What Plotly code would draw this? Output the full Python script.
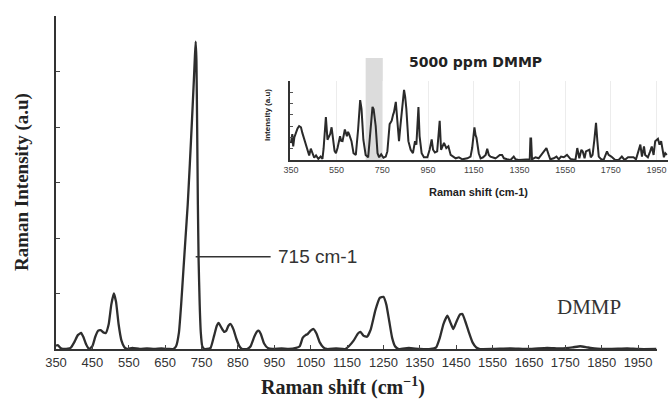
import plotly.graph_objects as go

W, H = 668, 399

# ---- main spectrum (DMMP) ----
main_x = [350, 355, 362, 375, 390, 400, 410, 419, 425, 433, 441, 450, 458, 466, 473, 480, 487,
          495, 502, 509, 515, 522, 530, 538, 545, 560, 580, 600, 620, 640, 660, 672, 680, 688,
          694, 700, 706, 712, 718, 724, 729, 732, 734, 736, 738, 740, 742, 745, 748, 752, 758,
          765, 775, 785, 792, 797, 805,
          812, 818, 824, 830, 838, 846, 855, 862, 875, 885, 895, 902, 907, 913, 922, 932, 945,
          970, 990, 1010, 1020, 1028, 1036, 1042, 1050, 1058, 1066, 1075, 1085, 1095, 1120,
          1145, 1155, 1168, 1180, 1187, 1195, 1205, 1215, 1228, 1240, 1250, 1258, 1266, 1274,
          1282, 1292, 1320, 1350, 1380, 1395, 1405, 1415, 1426, 1434, 1442, 1450, 1460, 1467,
          1475, 1485, 1495, 1505, 1515, 1550, 1600, 1650, 1700, 1740, 1770, 1791, 1810, 1830,
          1870, 1920, 1950, 2000]
main_y = [0.06, 0.07, 0.02, 0.0, 0.02, 0.12, 0.25, 0.29, 0.22, 0.08, 0.0, 0.05, 0.22, 0.33, 0.34,
          0.30, 0.29, 0.45, 0.80, 1.0, 0.85, 0.45, 0.15, 0.03, 0.0, 0.02, 0.0, 0.01, 0.0, 0.01,
          0.0, 0.0, 0.05, 0.3, 0.8, 1.4, 2.0, 2.6, 3.35, 4.15, 4.85, 5.3, 5.54, 5.2, 4.0, 2.6,
          1.6, 0.8, 0.3, 0.05, 0.0, 0.0, 0.02,
          0.25, 0.42, 0.47, 0.38, 0.31, 0.33, 0.42, 0.45, 0.35, 0.18, 0.04, 0.0, 0.0, 0.05, 0.22,
          0.31, 0.33, 0.27, 0.1, 0.02, 0.0, 0.01, 0.0, 0.02, 0.05, 0.2, 0.25, 0.27, 0.33, 0.36,
          0.28, 0.12, 0.03, 0.0, 0.01, 0.0, 0.05, 0.15, 0.28, 0.31, 0.24, 0.22, 0.35, 0.7, 0.92,
          0.94, 0.8, 0.5, 0.2, 0.05, 0.0, 0.02, 0.0, 0.0, 0.03, 0.2, 0.45, 0.6, 0.48, 0.36, 0.48,
          0.62, 0.63, 0.5, 0.3, 0.12, 0.03, 0.0, 0.0, 0.01, 0.0, 0.02, 0.01, 0.03, 0.05, 0.03,
          0.01, 0.0, 0.01, 0.0, 0.0]
main_ticks = list(range(350, 2000, 100))

# ---- inset spectrum (5000 ppm DMMP) ----
ins_x = [350, 356, 360, 365, 372, 379, 386, 394, 400, 408, 415, 423, 430, 437, 444, 452, 460, 470,
         480, 488, 493, 503, 510, 516, 522, 528, 536, 541, 547, 554, 565, 570, 576, 582, 586, 595,
         600, 605, 610, 615, 624, 634, 644, 650, 653, 657, 659, 667, 677, 688, 696, 702, 707, 712,
         717, 721, 729, 736, 745, 755, 765, 772, 782, 791, 797, 801, 809, 816, 823, 829, 835, 840,
         845, 850, 855, 864, 874, 884, 893, 899, 903, 908, 913, 922, 932, 947, 957, 966, 972, 980,
         990, 996, 1001, 1007, 1014, 1020, 1030, 1039, 1049, 1059, 1071, 1085, 1100, 1122, 1136,
         1143, 1148, 1153, 1158, 1162, 1172, 1180, 1191, 1202, 1209, 1216, 1223, 1238, 1245, 1252,
         1264, 1274, 1282, 1296, 1311, 1325, 1333, 1347, 1369, 1383, 1395, 1398, 1401, 1405, 1420,
         1434, 1445, 1456, 1468, 1478, 1485, 1500, 1512, 1522, 1532, 1544, 1558, 1573, 1583, 1595,
         1603, 1612, 1621, 1627, 1635, 1641, 1650, 1656, 1662, 1670, 1678, 1685, 1691, 1697, 1708,
         1718, 1733, 1740, 1752, 1762, 1769, 1784, 1798, 1810, 1825, 1835, 1849, 1860, 1868, 1879,
         1886, 1895, 1900, 1912, 1922, 1929, 1937, 1944, 1956, 1963, 1970, 1976, 1982, 1988, 1995]
ins_y = [1.5, 2.3, 1.2, 2.0, 2.4, 2.8, 3.0, 2.9, 2.4, 1.8, 1.3, 0.9, 0.4, 1.0, 0.6, 0.2, 0.4, 0.1,
         0.3, 0.1, 1.0, 3.8, 1.8, 2.1, 2.3, 2.9, 1.4, 0.8, 0.6, 1.06, 2.1, 1.7, 1.67, 2.4, 2.7, 2.1,
         2.5, 2.27, 2.0, 1.67, 0.6, 0.45, 2.7, 4.5, 5.3, 4.8, 4.5, 1.8, 0.45, 0.24, 2.1, 3.6, 4.7,
         4.5, 3.6, 3.0, 0.6, 0.24, 0.5, 0.2, 0.3, 0.76, 3.18, 3.48, 4.0, 4.24, 5.15, 3.64, 1.67,
         3.0, 4.24, 5.2, 6.21, 5.6, 4.55, 1.67, 0.91, 0.61, 1.67, 1.36, 3.0, 4.7, 2.12, 0.61, 0.24,
         0.24, 0.91, 1.82, 0.91, 0.67, 0.76, 2.0, 3.48, 0.91, 1.2, 1.52, 1.06, 1.21, 0.45, 0.3,
         0.15, 0.24, 0.06, 0.15, 0.3, 1.06, 1.82, 2.9, 2.2, 1.97, 0.6, 0.15, 0.24, 0.45, 1.0, 0.45,
         0.3, 0.24, 0.15, 0.24, 0.45, 0.45, 0.15, 0.06, 0.0, 0.3, 0.06, 0.0, 0.0, 0.0, 0.06, 1.9,
         1.9, 0.06, 0.24, 0.15, 0.45, 0.76, 1.06, 0.45, 0.06, 0.15, 0.3, 0.06, 0.3, 0.24, 0.45, 0.1,
         0.06, 0.0, 1.06, 0.15, 0.9, 0.76, 0.15, 0.76, 0.85, 0.91, 0.24, 0.45, 1.82, 3.3, 1.67, 0.3,
         0.06, 0.0, 0.76, 0.45, 0.3, 0.15, 0.0, 0.0, 0.3, 0.0, 0.24, 0.24, 0.24, 0.06, 0.6, 1.36,
         0.3, 1.2, 0.45, 0.24, 0.76, 1.2, 0.45, 1.67, 1.88, 1.36, 1.67, 0.91, 0.24, 0.6, 0.45]
ins_ticks = list(range(350, 2000, 200))
band = [677, 752]


def px(x):
    return x / W


def py(y):
    return 1 - y / H


fig = go.Figure()
fig.add_trace(go.Scatter(x=main_x, y=main_y, mode="lines",
                         line=dict(color="#2e2e2e", width=2.3, shape="spline", smoothing=0.4),
                         xaxis="x", yaxis="y", hoverinfo="skip"))
fig.add_trace(go.Scatter(x=ins_x, y=ins_y, mode="lines",
                         line=dict(color="#2a2a2a", width=2),
                         xaxis="x2", yaxis="y2", hoverinfo="skip"))

serif = "Liberation Serif"
sans = "Liberation Sans"

fig.update_layout(
    template="none",
    width=W, height=H, margin=dict(l=0, r=0, t=0, b=0, autoexpand=False),
    paper_bgcolor="white", plot_bgcolor="rgba(0,0,0,0)", showlegend=False,
    xaxis=dict(domain=[px(56), px(657)], range=[350, 2002], tickvals=main_ticks,
               ticks="inside", ticklen=4, tickcolor="#444", showline=True, linecolor="#333",
               linewidth=2, showgrid=False, zeroline=False, automargin=False,
               tickfont=dict(family=sans, size=13, color="#333"), anchor="y"),
    yaxis=dict(domain=[py(349), py(16)], range=[0, 6], dtick=1, ticks="inside", ticklen=4,
               tickcolor="#444", showticklabels=False, showline=True, linecolor="#333",
               linewidth=2, showgrid=False, zeroline=False, anchor="x", automargin=False),
    xaxis2=dict(domain=[px(290), 1.0], range=[346, 2000], tickvals=ins_ticks,
                ticks="", showline=True, linecolor="#333", linewidth=1.5,
                showgrid=True, gridcolor="#ececec", gridwidth=1, zeroline=False,
                automargin=False,
                tickfont=dict(family=sans, size=9, color="#444"), anchor="y2"),
    yaxis2=dict(domain=[py(160), py(81)], range=[0, 7], dtick=1, ticks="inside", ticklen=3,
                tickcolor="#555", showticklabels=False, showline=True, linecolor="#333",
                linewidth=1.5, showgrid=False, zeroline=False, anchor="x2", automargin=False),
)

# shaded band in the inset
fig.add_shape(type="rect", xref="x2", yref="paper", x0=band[0], x1=band[1],
              y0=py(160), y1=py(58), fillcolor="#dcdcdc", line=dict(width=0), layer="below")

# 715 cm-1 marker line and label
fig.add_shape(type="line", xref="x", yref="y", x0=734, x1=940, y0=1.66, y1=1.66,
              line=dict(color="#333", width=1.5))
fig.add_annotation(x=956, y=1.66, xref="x", yref="y", text="715 cm-1", showarrow=False,
                   xanchor="left", yanchor="middle",
                   font=dict(family=sans, size=19, color="#333"))
fig.add_annotation(x=1722, y=0.76, xref="x", yref="y", text="DMMP", showarrow=False,
                   xanchor="left", yanchor="middle",
                   font=dict(family=serif, size=21, color="#333"))

# main axis titles
fig.add_annotation(x=px(343), y=py(386), xref="paper", yref="paper",
                   text="<b>Raman shift (cm<sup>−1</sup>)</b>", showarrow=False,
                   xanchor="center", yanchor="middle",
                   font=dict(family=serif, size=20, color="#222"))
fig.add_annotation(x=px(22), y=py(182), xref="paper", yref="paper",
                   text="<b>Raman Intensity (a.u)</b>", showarrow=False, textangle=-90,
                   xanchor="center", yanchor="middle",
                   font=dict(family=serif, size=19, color="#222"))

# inset texts
fig.add_annotation(x=px(475), y=py(62), xref="paper", yref="paper",
                   text="<b>5000 ppm DMMP</b>", showarrow=False,
                   xanchor="center", yanchor="middle",
                   font=dict(family="DejaVu Sans", size=14, color="#222"))
fig.add_annotation(x=px(478), y=py(192), xref="paper", yref="paper",
                   text="<b>Raman shift (cm-1)</b>", showarrow=False,
                   xanchor="center", yanchor="middle",
                   font=dict(family=sans, size=11, color="#222"))
fig.add_annotation(x=px(267), y=py(115), xref="paper", yref="paper",
                   text="<b>Intensity (a.u)</b>", showarrow=False, textangle=-90,
                   xanchor="center", yanchor="middle",
                   font=dict(family=sans, size=8, color="#222"))

fig.write_html("out.html")
